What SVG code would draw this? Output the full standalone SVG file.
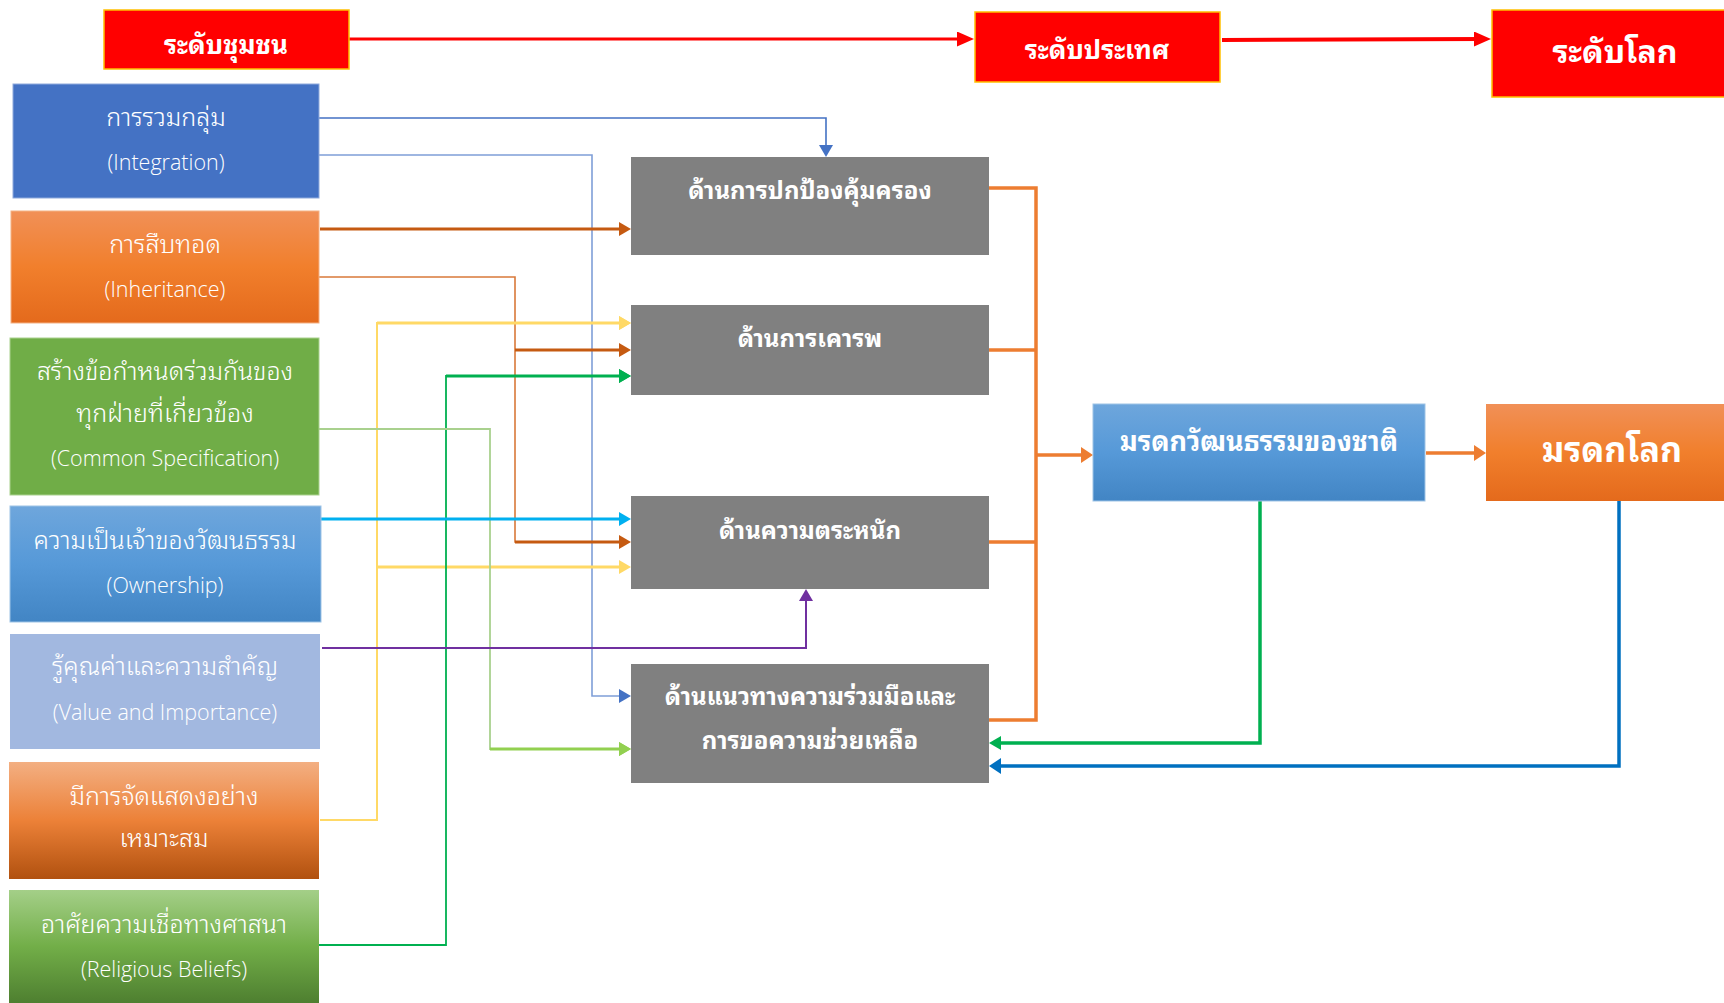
<svg xmlns="http://www.w3.org/2000/svg" width="1724" height="1003" viewBox="0 0 1724 1003">
<defs>
<style>
.th{font-family:"Noto Sans Thai Looped","Noto Sans Thai","Leelawadee UI","Noto Sans","DejaVu Sans",sans-serif;fill:#fff;text-anchor:middle;dominant-baseline:central;transform:translateY(-3.5px)}
.lt{font-size:25px;font-weight:300}
.en{font-family:"Open Sans","Liberation Sans",sans-serif;font-weight:300;font-size:21.5px;fill:#fff;text-anchor:middle;dominant-baseline:central}
.gb{font-size:24px;font-weight:700}
.rb{font-size:26px;font-weight:700}
.ln{fill:none;stroke-linejoin:miter}
</style>
<linearGradient id="gOr" x1="0" y1="0" x2="0" y2="1"><stop offset="0" stop-color="#F19057"/><stop offset="0.5" stop-color="#F17F2C"/><stop offset="1" stop-color="#E46A1C"/></linearGradient>
<linearGradient id="gBl" x1="0" y1="0" x2="0" y2="1"><stop offset="0" stop-color="#6EA6DC"/><stop offset="0.5" stop-color="#5699D8"/><stop offset="1" stop-color="#4285C4"/></linearGradient>
<linearGradient id="gOr2" x1="0" y1="0" x2="0" y2="1"><stop offset="0" stop-color="#F3AF82"/><stop offset="0.5" stop-color="#EC8138"/><stop offset="1" stop-color="#B1510F"/></linearGradient>
<linearGradient id="gGr" x1="0" y1="0" x2="0" y2="1"><stop offset="0" stop-color="#A4CF88"/><stop offset="0.5" stop-color="#72AE48"/><stop offset="1" stop-color="#4E7F30"/></linearGradient>
<marker id="aRed" viewBox="0 0 17 15" refX="9" refY="7.5" markerWidth="17" markerHeight="15" markerUnits="userSpaceOnUse" orient="auto"><path d="M0,0 L17,7.5 L0,15 z" fill="#FF0000"/></marker>
<marker id="aBlue" viewBox="0 0 12 14" refX="4" refY="7" markerWidth="12" markerHeight="14" markerUnits="userSpaceOnUse" orient="auto"><path d="M0,0 L12,7 L0,14 z" fill="#4472C4"/></marker>
<marker id="aBrown" viewBox="0 0 12 14" refX="4" refY="7" markerWidth="12" markerHeight="14" markerUnits="userSpaceOnUse" orient="auto"><path d="M0,0 L12,7 L0,14 z" fill="#C55A11"/></marker>
<marker id="aYel" viewBox="0 0 12 14" refX="4" refY="7" markerWidth="12" markerHeight="14" markerUnits="userSpaceOnUse" orient="auto"><path d="M0,0 L12,7 L0,14 z" fill="#FFD966"/></marker>
<marker id="aGrn" viewBox="0 0 12 14" refX="4" refY="7" markerWidth="12" markerHeight="14" markerUnits="userSpaceOnUse" orient="auto"><path d="M0,0 L12,7 L0,14 z" fill="#00B050"/></marker>
<marker id="aLg" viewBox="0 0 12 14" refX="4" refY="7" markerWidth="12" markerHeight="14" markerUnits="userSpaceOnUse" orient="auto"><path d="M0,0 L12,7 L0,14 z" fill="#92D050"/></marker>
<marker id="aCy" viewBox="0 0 12 14" refX="4" refY="7" markerWidth="12" markerHeight="14" markerUnits="userSpaceOnUse" orient="auto"><path d="M0,0 L12,7 L0,14 z" fill="#00B0F0"/></marker>
<marker id="aPu" viewBox="0 0 12 14" refX="4" refY="7" markerWidth="12" markerHeight="14" markerUnits="userSpaceOnUse" orient="auto"><path d="M0,0 L12,7 L0,14 z" fill="#7030A0"/></marker>
<marker id="aOr" viewBox="0 0 12 16" refX="4" refY="8" markerWidth="12" markerHeight="16" markerUnits="userSpaceOnUse" orient="auto"><path d="M0,0 L12,8 L0,16 z" fill="#ED7D31"/></marker>
<marker id="aDb" viewBox="0 0 12 16" refX="4" refY="8" markerWidth="12" markerHeight="16" markerUnits="userSpaceOnUse" orient="auto"><path d="M0,0 L12,8 L0,16 z" fill="#0070C0"/></marker>
</defs>
<rect width="1724" height="1003" fill="#fff"/>

<g id="connectors">
<path class="ln" d="M349,39 L966,39" stroke="#FF0000" stroke-width="3" marker-end="url(#aRed)"/>
<path class="ln" d="M1222,40 L1483,39" stroke="#FF0000" stroke-width="4" marker-end="url(#aRed)"/>
<path class="ln" d="M319,118 L826,118 L826,149" stroke="#4472C4" stroke-width="1.6" marker-end="url(#aBlue)"/>
<path class="ln" d="M319,155 L592,155 L592,696 L623,696" stroke="#7F9FD8" stroke-width="1.6" marker-end="url(#aBlue)"/>
<path class="ln" d="M320,229 L623,229" stroke="#C55A11" stroke-width="3" marker-end="url(#aBrown)"/>
<path class="ln" d="M319,277 L515,277 L515,542 L623,542" stroke="#D9793A" stroke-width="1.6"/>
<path class="ln" d="M515,350 L623,350" stroke="#C55A11" stroke-width="3" marker-end="url(#aBrown)"/>
<path class="ln" d="M515,542 L623,542" stroke="#C55A11" stroke-width="3" marker-end="url(#aBrown)"/>
<path class="ln" d="M320,820 L377,820 L377,323 L623,323" stroke="#FFD966" stroke-width="2" marker-end="url(#aYel)"/>
<path class="ln" d="M377,323 L623,323" stroke="#FFD966" stroke-width="3" marker-end="url(#aYel)"/>
<path class="ln" d="M377,567 L623,567" stroke="#FFD966" stroke-width="3" marker-end="url(#aYel)"/>
<path class="ln" d="M319,945 L446,945 L446,376 L623,376" stroke="#00B050" stroke-width="1.8" marker-end="url(#aGrn)"/>
<path class="ln" d="M446,376 L623,376" stroke="#00B050" stroke-width="3" marker-end="url(#aGrn)"/>
<path class="ln" d="M319,429 L490,429 L490,749 L623,749" stroke="#A9D18E" stroke-width="1.8" marker-end="url(#aLg)"/>
<path class="ln" d="M490,749 L623,749" stroke="#92D050" stroke-width="3" marker-end="url(#aLg)"/>
<path class="ln" d="M321,519 L623,519" stroke="#00B0F0" stroke-width="3" marker-end="url(#aCy)"/>
<path class="ln" d="M322,648 L806,648 L806,597" stroke="#7030A0" stroke-width="2" marker-end="url(#aPu)"/>
<path class="ln" d="M989,188 L1036,188 L1036,720 L989,720" stroke="#ED7D31" stroke-width="3.5"/>
<path class="ln" d="M989,350 L1036,350" stroke="#ED7D31" stroke-width="3.5"/>
<path class="ln" d="M989,542 L1036,542" stroke="#ED7D31" stroke-width="3.5"/>
<path class="ln" d="M1036,455 L1085,455" stroke="#ED7D31" stroke-width="3.5" marker-end="url(#aOr)"/>
<path class="ln" d="M1426,453 L1478,453" stroke="#ED7D31" stroke-width="3.5" marker-end="url(#aOr)"/>
<path class="ln" d="M1260,501 L1260,743 L997,743" stroke="#00B050" stroke-width="3.5" marker-end="url(#aGrn)"/>
<path class="ln" d="M1619,501 L1619,766 L997,766" stroke="#0070C0" stroke-width="3.5" marker-end="url(#aDb)"/>
</g>

<g id="n-community"><rect x="104" y="10" width="245" height="59" fill="#FF0000" stroke="#FFC000" stroke-width="1.5"/><text class="th rb" x="226" y="45">ระดับชุมชน</text></g>
<g id="n-country"><rect x="975" y="12" width="245" height="70" fill="#FF0000" stroke="#FFC000" stroke-width="1.5"/><text class="th rb" x="1097" y="50">ระดับประเทศ</text></g>
<g id="n-world"><rect x="1492" y="10" width="240" height="87" fill="#FF0000" stroke="#FFC000" stroke-width="1.5"/><text class="th" style="font-size:32px;font-weight:700" x="1615" y="52">ระดับโลก</text></g>

<g id="n-integration"><rect x="13" y="84" width="306" height="114" fill="#4472C4" stroke="#8FAADC" stroke-width="1"/><text class="th lt" x="166" y="118">การรวมกลุ่ม</text><text class="en" x="166" y="161">(Integration)</text></g>
<g id="n-inheritance"><rect x="11" y="211" width="308" height="112" fill="url(#gOr)" stroke="#F4B183" stroke-width="1"/><text class="th lt" x="165" y="245">การสืบทอด</text><text class="en" x="165" y="288">(Inheritance)</text></g>
<g id="n-common"><rect x="10" y="338" width="309" height="157" fill="#70AD47" stroke="#A9D18E" stroke-width="1"/><text class="th lt" x="165" y="372">สร้างข้อกำหนดร่วมกันของ</text><text class="th lt" x="165" y="414">ทุกฝ่ายที่เกี่ยวข้อง</text><text class="en" x="165" y="457">(Common Specification)</text></g>
<g id="n-ownership"><rect x="10" y="506" width="311" height="116" fill="url(#gBl)" stroke="#9DC3E6" stroke-width="1"/><text class="th lt" x="165" y="541">ความเป็นเจ้าของวัฒนธรรม</text><text class="en" x="165" y="584">(Ownership)</text></g>
<g id="n-value"><rect x="10" y="634" width="310" height="115" fill="#A2B8E0"/><text class="th lt" x="165" y="667">รู้คุณค่าและความสำคัญ</text><text class="en" x="165" y="711">(Value and Importance)</text></g>
<g id="n-display"><rect x="9" y="762" width="310" height="117" fill="url(#gOr2)"/><text class="th lt" x="164" y="797">มีการจัดแสดงอย่าง</text><text class="th lt" x="164" y="839">เหมาะสม</text></g>
<g id="n-religious"><rect x="9" y="890" width="310" height="113" fill="url(#gGr)"/><text class="th lt" x="164" y="925">อาศัยความเชื่อทางศาสนา</text><text class="en" x="164" y="968">(Religious Beliefs)</text></g>

<g id="n-protect"><rect x="631" y="157" width="358" height="98" fill="#808080"/><text class="th gb" x="810" y="191">ด้านการปกป้องคุ้มครอง</text></g>
<g id="n-respect"><rect x="631" y="305" width="358" height="90" fill="#808080"/><text class="th gb" x="810" y="339">ด้านการเคารพ</text></g>
<g id="n-aware"><rect x="631" y="496" width="358" height="93" fill="#808080"/><text class="th gb" x="810" y="531">ด้านความตระหนัก</text></g>
<g id="n-coop"><rect x="631" y="664" width="358" height="119" fill="#808080"/><text class="th gb" x="810" y="697">ด้านแนวทางความร่วมมือและ</text><text class="th gb" x="810" y="741">การขอความช่วยเหลือ</text></g>

<g id="n-national"><rect x="1093" y="404" width="332" height="97" fill="url(#gBl)" stroke="#9DC3E6" stroke-width="1"/><text class="th" style="font-size:27px;font-weight:700" x="1259" y="442">มรดกวัฒนธรรมของชาติ</text></g>
<g id="n-worldheritage"><rect x="1486" y="404" width="245" height="97" fill="url(#gOr)"/><text class="th" style="font-size:34px;font-weight:700" x="1612" y="450">มรดกโลก</text></g>
</svg>
